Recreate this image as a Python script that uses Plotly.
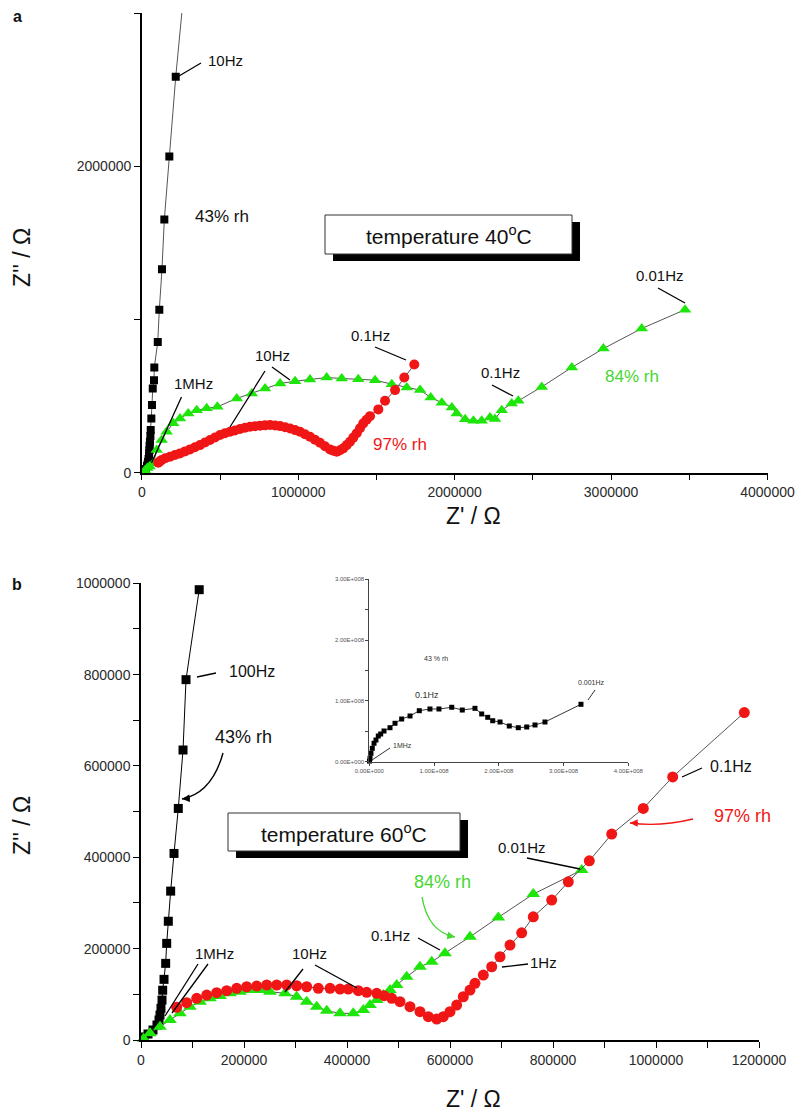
import numpy as np
import plotly.graph_objects as go

W, H = 803, 1117
OFF = 8  # page body margin offset applied by the browser

# ---------------- DATA ----------------
# Panel a (40 C), values in MOhm
a43_x = [0.015,0.020,0.027,0.033,0.037,0.040,0.043,0.046,0.047,0.049,0.050,0.052,0.055,0.057,0.061,0.065,0.070,0.078,0.080,0.102,0.112,0.129,0.144,0.176,0.217,0.270]
a43_y = [0.005,0.011,0.024,0.044,0.055,0.070,0.090,0.109,0.125,0.148,0.175,0.202,0.240,0.278,0.354,0.441,0.550,0.604,0.687,0.853,1.064,1.327,1.653,2.063,2.584,3.150]

a84_x = [0.020,0.035,0.050,0.074,0.095,0.127,0.159,0.201,0.244,0.297,0.351,0.415,0.483,0.607,0.703,0.788,0.884,0.980,1.075,1.182,1.278,1.384,1.491,1.598,1.694,1.779,1.847,1.918,1.982,2.013,2.067,2.120,2.173,2.226,2.258,2.301,2.365,2.407,2.557,2.749,2.951,3.196,3.473]
a84_y = [0.015,0.030,0.040,0.061,0.148,0.213,0.267,0.322,0.354,0.387,0.408,0.420,0.430,0.485,0.517,0.550,0.582,0.597,0.608,0.621,0.615,0.610,0.604,0.578,0.556,0.539,0.491,0.456,0.426,0.387,0.348,0.339,0.339,0.360,0.350,0.408,0.452,0.469,0.560,0.687,0.810,0.941,1.064]

a97_x = [0.105,0.115,0.127,0.150,0.180,0.212,0.244,0.276,0.308,0.340,0.372,0.404,0.436,0.468,0.500,0.532,0.564,0.596,0.628,0.660,0.692,0.724,0.756,0.788,0.820,0.852,0.884,0.916,0.948,0.980,1.011,1.043,1.075,1.107,1.139,1.171,1.203,1.225,1.246,1.267,1.288,1.310,1.331,1.352,1.374,1.395,1.416,1.437,1.459,1.512,1.555,1.619,1.678,1.742]
a97_y = [0.065,0.074,0.083,0.094,0.104,0.115,0.126,0.139,0.152,0.166,0.180,0.197,0.213,0.230,0.246,0.257,0.267,0.276,0.285,0.293,0.300,0.303,0.306,0.309,0.311,0.308,0.304,0.297,0.289,0.278,0.267,0.251,0.235,0.215,0.195,0.173,0.152,0.144,0.137,0.147,0.159,0.180,0.202,0.229,0.257,0.290,0.322,0.345,0.369,0.413,0.469,0.539,0.621,0.706]

# Panel b (60 C), values in kOhm
b43_x = [5.8,13.6,23.3,31.0,35.0,36.9,38.8,40.8,42.1,44.7,47.9,49.9,53.0,57.6,64.1,72.4,81.6,87.4,113.0]
b43_y = [6.6,13.1,21.9,32.8,43.8,54.7,69.4,87.5,109.0,132.8,167.8,211.6,260.0,326.0,408.5,507.0,635.0,789.0,986.0]

b84_x = [5.0,17.5,36.9,56.3,75.7,95.1,114.6,134.0,153.4,172.8,192.2,211.7,231.0,250.5,279.6,302.3,321.7,341.2,360.6,386.4,412.2,431.7,444.7,457.7,470.5,483.5,496.5,515.9,541.7,564.5,590.3,638.8,693.8,761.7,855.7]
b84_y = [3.0,14.7,29.1,43.8,58.4,72.9,83.8,91.2,96.3,102.2,105.7,109.4,109.4,105.7,102.2,94.7,83.8,72.9,64.1,58.4,58.4,65.6,76.6,87.5,98.5,109.4,120.4,138.5,160.4,171.3,189.7,226.0,268.5,319.5,372.0]

b97_x = [69.3,88.7,108.2,127.6,147.0,166.4,185.8,205.2,224.7,244.1,263.5,282.9,302.3,321.7,344.3,367.0,386.4,402.5,422.0,438.3,457.7,472.0,486.8,502.9,522.3,541.7,557.9,574.2,587.0,600.0,613.0,625.8,638.8,648.5,664.7,681.0,697.1,716.5,739.2,761.7,797.5,829.7,870.5,914.0,975.3,1032.4,1171.5]
b97_y = [71.6,81.6,91.2,98.5,103.5,107.9,113.1,116.6,118.2,120.4,120.4,120.4,118.8,116.6,113.1,113.1,111.6,111.6,107.9,104.4,102.2,97.0,91.2,83.8,72.9,61.9,51.0,46.0,51.0,61.9,76.6,94.7,109.4,124.1,142.2,160.4,182.3,207.9,234.8,269.8,306.3,346.4,392.3,450.8,507.0,576.1,717.0]

# Inset (43% rh, 60 C), in units of 1e8 Ohm
in_x = [0.003,0.011,0.026,0.046,0.073,0.103,0.139,0.176,0.227,0.320,0.397,0.500,0.629,0.772,0.937,1.076,1.273,1.436,1.632,1.736,1.829,1.906,2.019,2.162,2.301,2.431,2.559,2.713,3.269]
in_y = [0.010,0.056,0.138,0.220,0.303,0.357,0.423,0.456,0.505,0.559,0.632,0.702,0.752,0.839,0.867,0.867,0.895,0.850,0.878,0.785,0.730,0.674,0.653,0.587,0.559,0.571,0.604,0.653,0.944]
in_ticks = [0, 1, 2, 3, 4]
in_xlabels = ["0.00E+000", "1.00E+008", "2.00E+008", "3.00E+008", "4.00E+008"]
in_ylabels = ["0.00E+000", "1.00E+008", "2.00E+008", "3.00E+008"]

M = 1e6
K = 1e3

RED = "rgb(240,22,22)"
GREEN = "rgb(30,230,10)"
LINE = "#555555"
FONT = "Liberation Sans, Arial, sans-serif"


def px(x, y):
    return (x - OFF) / W, 1 - (y - OFF) / H


def xdom(a, b):
    return [px(a, 0)[0], px(b, 0)[0]]


def ydom(bottom, top):
    return [px(0, bottom)[1], px(0, top)[1]]


fig = go.Figure()

# ---- panel a traces
fig.add_trace(go.Scatter(x=np.array(a43_x) * M, y=np.array(a43_y) * M, mode="lines+markers",
                         line=dict(color=LINE, width=1),
                         marker=dict(symbol="square", size=8, color="black"),
                         xaxis="x", yaxis="y"))
fig.add_trace(go.Scatter(x=np.array(a84_x) * M, y=np.array(a84_y) * M, mode="lines+markers",
                         line=dict(color=LINE, width=1),
                         marker=dict(symbol="triangle-up", size=11, color=GREEN),
                         xaxis="x", yaxis="y", cliponaxis=False))
fig.add_trace(go.Scatter(x=np.array(a97_x) * M, y=np.array(a97_y) * M, mode="lines+markers",
                         line=dict(color=LINE, width=1),
                         marker=dict(symbol="circle", size=10, color=RED),
                         xaxis="x", yaxis="y", cliponaxis=False))

# ---- panel b traces
fig.add_trace(go.Scatter(x=np.array(b43_x) * K, y=np.array(b43_y) * K, mode="lines+markers",
                         line=dict(color="black", width=1),
                         marker=dict(symbol="square", size=9, color="black"),
                         xaxis="x2", yaxis="y2", cliponaxis=False))
fig.add_trace(go.Scatter(x=np.array(b84_x) * K, y=np.array(b84_y) * K, mode="lines+markers",
                         line=dict(color=LINE, width=1),
                         marker=dict(symbol="triangle-up", size=12, color=GREEN),
                         xaxis="x2", yaxis="y2", cliponaxis=False))
fig.add_trace(go.Scatter(x=np.array(b97_x) * K, y=np.array(b97_y) * K, mode="lines+markers",
                         line=dict(color=LINE, width=1),
                         marker=dict(symbol="circle", size=11, color=RED),
                         xaxis="x2", yaxis="y2", cliponaxis=False))

# ---- inset trace
fig.add_trace(go.Scatter(x=in_x, y=in_y, mode="lines+markers",
                         line=dict(color="#333", width=1),
                         marker=dict(symbol="square", size=5, color="black"),
                         xaxis="x3", yaxis="y3", cliponaxis=False))

tickfont = dict(family=FONT, size=14, color="#2a2a2a")


def main_axis(domain, anchor, rng, dtick, minor, **kw):
    return dict(domain=domain, anchor=anchor, range=rng, dtick=dtick, tick0=0,
                showline=True, linecolor="black", linewidth=1.5,
                ticks="outside", ticklen=6, tickwidth=1.3, tickcolor="black",
                minor=dict(ticks="outside", dtick=minor, ticklen=6, tickwidth=1.3, tickcolor="black"),
                tickformat="d", showgrid=False, zeroline=False, tickfont=tickfont,
                automargin=False, **kw)


fig.update_layout(
    width=W, height=H, margin=dict(l=0, r=0, t=0, b=0, autoexpand=False),
    paper_bgcolor="white", plot_bgcolor="rgba(0,0,0,0)", showlegend=False,
    xaxis=main_axis(xdom(141.8, 767.5), "y", [0, 4 * M], 1 * M, 0.5 * M),
    yaxis=main_axis(ydom(472.7, 13), "x", [0, 3 * M], 2 * M, 1 * M),
    xaxis2=main_axis(xdom(141, 759), "y2", [0, 1.2 * M], 200 * K, 100 * K),
    yaxis2=main_axis(ydom(1040, 583.3), "x2", [0, 1 * M], 200 * K, 100 * K),
    xaxis3=dict(domain=xdom(369.3, 628.3), anchor="y3", range=[0, 4],
                tickvals=in_ticks, ticktext=in_xlabels, automargin=False,
                showline=True, linecolor="#444", linewidth=1,
                ticks="outside", ticklen=3, tickwidth=1, tickcolor="#444",
                showgrid=False, zeroline=False,
                tickfont=dict(family=FONT, size=6, color="#555")),
    yaxis3=dict(domain=ydom(761.7, 579.3), anchor="x3", range=[0, 3],
                tickvals=in_ticks[:4], ticktext=in_ylabels, automargin=False,
                showline=True, linecolor="#444", linewidth=1,
                ticks="outside", ticklen=3, tickwidth=1, tickcolor="#444",
                minor=dict(ticks="outside", dtick=0.5, ticklen=3, tickwidth=1, tickcolor="#444"),
                showgrid=False, zeroline=False,
                tickfont=dict(family=FONT, size=6, color="#555")),
)

shapes = []
annotations = []


def text(x, y, s, size=15, color="#111", **kw):
    X, Y = px(x, y)
    annotations.append(dict(x=X, y=Y, xref="paper", yref="paper", text=s, showarrow=False,
                            font=dict(family=FONT, size=size, color=color),
                            xanchor=kw.get("xanchor", "center"), yanchor="middle",
                            textangle=kw.get("angle", 0)))


def seg(x0, y0, x1, y1, color="black", width=1.3):
    X0, Y0 = px(x0, y0)
    X1, Y1 = px(x1, y1)
    shapes.append(dict(type="line", xref="paper", yref="paper", x0=X0, y0=Y0, x1=X1, y1=Y1,
                       line=dict(color=color, width=width)))


def curve(p0, c, p1, color, tail):
    X0, Y0 = px(*p0)
    CX, CY = px(*c)
    X1, Y1 = px(*p1)
    shapes.append(dict(type="path", xref="paper", yref="paper",
                       path=f"M {X0},{Y0} Q {CX},{CY} {X1},{Y1}",
                       line=dict(color=color, width=1.4)))
    annotations.append(dict(x=X1, y=Y1, xref="paper", yref="paper", text=" ", showarrow=True,
                            ax=tail[0], ay=tail[1], arrowhead=2, arrowsize=1.1, arrowwidth=1.4,
                            arrowcolor=color, font=dict(size=2)))


def box(x0, y0, x1, y1, label):
    a0, b0 = px(x0 + 8, y0 + 7)
    a1, b1 = px(x1 + 8, y1 + 7)
    shapes.append(dict(type="rect", xref="paper", yref="paper", x0=a0, y0=b0, x1=a1, y1=b1,
                       fillcolor="black", line=dict(color="black", width=0)))
    a0, b0 = px(x0, y0)
    a1, b1 = px(x1, y1)
    shapes.append(dict(type="rect", xref="paper", yref="paper", x0=a0, y0=b0, x1=a1, y1=b1,
                       fillcolor="white", line=dict(color="#333", width=1)))
    text((x0 + x1) / 2, (y0 + y1) / 2 + 1, label, size=21, color="#111")


# ---- panel a annotations
text(17, 17, "<b>a</b>", size=16)
text(225, 60, "10Hz", size=15)
seg(179, 76, 201, 63)
text(222, 216, "43% rh", size=17)
box(325, 215, 572, 254, "temperature 40<sup>o</sup>C")
text(193, 383, "1MHz", size=15)
seg(181.5, 397, 151.5, 463)
text(272, 355, "10Hz", size=15)
seg(265, 371, 230, 427)
seg(272, 367, 290, 380)
text(370, 335, "0.1Hz", size=15)
seg(375, 347, 406, 360)
text(500, 373, "0.1Hz", size=15)
seg(492, 385, 513, 396)
text(400, 444, "97% rh", size=17, color=RED)
text(660, 275, "0.01Hz", size=15)
seg(658, 288, 685, 303)
text(632, 377, "84% rh", size=17, color="rgb(70,215,50)")
text(473, 516, "Z' / Ω", size=23)
text(22, 258, "Z'' / Ω", size=23, angle=-90)

# ---- panel b annotations
text(17, 584, "<b>b</b>", size=16)
text(252, 671, "100Hz", size=16)
seg(197, 677, 216, 673)
text(243, 737, "43% rh", size=18)
curve((223, 753), (212, 793), (182, 799), "black", (10, -1))
box(228, 813, 460, 851, "temperature 60<sup>o</sup>C")
text(215, 953, "1MHz", size=15)
seg(198, 964, 165, 1016)
seg(208, 964, 172, 1013)
text(309, 953, "10Hz", size=15)
seg(303, 969, 285, 992)
seg(315, 965, 357, 988)
text(390, 935, "0.1Hz", size=15)
seg(418, 938, 440, 950)
text(442, 882, "84% rh", size=18, color="rgb(70,215,50)")
curve((422, 897), (428, 932), (455, 937), "rgb(70,215,50)", (-10, -2))
text(522, 847, "0.01Hz", size=15)
seg(527, 858, 580, 869)
text(543, 962, "1Hz", size=15)
seg(502, 967, 528, 964)
text(731, 766, "0.1Hz", size=16)
seg(682, 777, 702, 768)
text(742, 816, "97% rh", size=18, color=RED)
curve((693, 819), (660, 827), (630, 823), RED, (10, 0))
text(473, 1099, "Z' / Ω", size=23)
text(22, 826, "Z'' / Ω", size=23, angle=-90)

# ---- inset annotations
text(436, 658, "43 % rh", size=7, color="#333")
text(427, 695, "0.1Hz", size=9, color="#333")
text(591, 682, "0.001Hz", size=7, color="#333")
seg(595, 690, 588, 700, color="#333", width=1)
text(402, 745, "1MHz", size=7, color="#333")
seg(390, 748, 372, 760, color="#333", width=1)

fig.update_layout(shapes=shapes, annotations=annotations)
fig.write_html("out.html")
